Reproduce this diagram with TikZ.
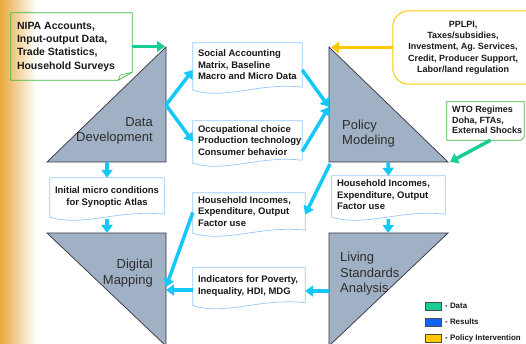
\documentclass[tikz,border=0pt]{standalone}
\usepackage{fontspec}
\setmainfont{Liberation Sans}
\usetikzlibrary{arrows.meta,calc}
\frenchspacing
\definecolor{tri}{RGB}{161,177,197}
\definecolor{triedge}{RGB}{50,50,60}
\definecolor{cyanA}{RGB}{20,200,250}
\definecolor{greenA}{RGB}{25,205,150}
\definecolor{greenB}{RGB}{60,185,60}
\definecolor{yellowA}{RGB}{255,200,0}
\definecolor{boxblue}{RGB}{150,200,250}
\definecolor{legblue}{RGB}{15,100,245}
\definecolor{orangeL}{RGB}{232,168,60}
\definecolor{orangeM}{RGB}{250,218,135}
\definecolor{txt}{RGB}{25,25,25}
\definecolor{tritxt}{RGB}{45,45,45}
\newcommand\linesL[2]{\makebox[#1][l]{\begin{tabular}{@{}l@{}}#2\end{tabular}}}
\newcommand\linesC[2]{\makebox[#1][c]{\begin{tabular}{@{}c@{}}#2\end{tabular}}}
\newcommand\mydocshape[1]{%
  \path[docline] ([yshift=-1pt]#1.south west) -- (#1.north west) -- (#1.north east) -- ([yshift=2pt]#1.south east)
  .. controls ([yshift=7pt]$(#1.south west)!0.6!(#1.south east)$) and ([yshift=-11pt]$(#1.south west)!0.3!(#1.south east)$) .. ([yshift=-1pt]#1.south west) -- cycle;}
\begin{document}
\begin{tikzpicture}[x=1pt,y=-1pt,
  trifill/.style={fill=tri,draw=triedge,line width=0.7pt,line join=miter},
  trilabel/.style={font=\fontsize{13}{15.5}\selectfont, text=tritxt, inner sep=0pt},
  boxt/.style={font=\bfseries\fontsize{9.5}{11.5}\selectfont, text=txt, inner xsep=5pt, inner ysep=0pt},
  docline/.style={draw=boxblue, line width=0.7pt},
  flow/.style={draw=cyanA, line width=3.5pt, -{Triangle[length=8pt,width=11pt]}},
  dataflow/.style={draw=greenA, line width=3.5pt, -{Triangle[length=8pt,width=11pt]}},
  polflow/.style={draw=yellowA, line width=3.5pt, -{Triangle[length=8pt,width=11pt]}},
  swatch/.style={draw=black!70, line width=0.6pt, minimum width=16pt, minimum height=8pt, inner sep=0pt},
  legtext/.style={font=\bfseries\fontsize{7.9}{9}\selectfont, text=txt, inner sep=0pt, anchor=west}
]
\useasboundingbox (0,0) rectangle (526,344);
\fill[white] (0,0) rectangle (526,344);
\shade[left color=orangeL, middle color=orangeM, right color=white] (0,0) rectangle (36,344);

% triangles
\filldraw[trifill] (166,47) -- (47,162) -- (166,162) -- cycle;
\filldraw[trifill] (47,233) -- (166,233) -- (166,346) -- cycle;
\filldraw[trifill] (329,47) -- (329,162) -- (448,162) -- cycle;
\filldraw[trifill] (329,233) -- (448,233) -- (329,346) -- cycle;
\node[trilabel, align=right, anchor=east] (ddl) at (153,131) {Data\\Development};
\node[trilabel, align=right, anchor=east] (dml) at (153,273) {Digital\\Mapping};
\node[trilabel, align=left, anchor=west] (pml) at (342,133.5) {Policy\\Modeling};
\node[trilabel, align=left, anchor=west] (lsl) at (340,274) {Living\\Standards\\Analysis};

% anchor points on triangles
\coordinate (ddR) at (166,105);
\coordinate (pmL) at (329,107);
\coordinate (ddB) at (107,162);
\coordinate (dmT) at (107,233);
\coordinate (pmB) at (388,162);
\coordinate (lsT) at (388,233);
\coordinate (pmC) at (330,164);
\coordinate (dmR) at (166,287);
\coordinate (lsL) at (329,291);
\coordinate (ddA) at (165,46.5);
\coordinate (pmA) at (331,47.5);
\coordinate (pmE) at (450,162);

% blue document boxes
\node[boxt, minimum height=46pt] (sam) at (247.5,66) {\linesL{99pt}{Social Accounting\\Matrix, Baseline\\Macro and Micro Data}};
\mydocshape{sam}
\node[boxt, minimum height=41pt] (occ) at (247.5,141.5) {\linesL{99pt}{Occupational choice\\Production technology\\Consumer behavior}};
\mydocshape{occ}
\node[boxt, minimum height=38pt] (init) at (107,197) {\linesC{104pt}{Initial micro conditions\\for Synoptic Atlas}};
\mydocshape{init}
\node[boxt, minimum height=39pt] (hhl) at (249,212.5) {\linesL{102pt}{Household Incomes,\\Expenditure, Output\\Factor use}};
\mydocshape{hhl}
\node[boxt, minimum height=40pt] (hhr) at (388.5,196) {\linesL{103pt}{Household Incomes,\\Expenditure, Output\\Factor use}};
\mydocshape{hhr}
\node[boxt, minimum height=37pt] (ind) at (249,286) {\linesL{102pt}{Indicators for Poverty,\\Inequality, HDI, MDG}};
\mydocshape{ind}

% green note boxes
\node[boxt, font=\bfseries\fontsize{10.5}{13.3}\selectfont, inner xsep=6pt, minimum height=67pt] (nipa) at (71.5,46.5) {\linesL{109pt}{NIPA Accounts,\\Input-output Data,\\Trade Statistics,\\Household Surveys}};
\draw[greenB, line width=0.8pt] (nipa.north west) -- (nipa.north east) -- ([yshift=8pt]nipa.south east) -- ([xshift=-14pt]nipa.south east) -- (nipa.south west) -- cycle;
\draw[greenB, line width=0.6pt] ([yshift=8pt]nipa.south east) -- ([xshift=-12pt,yshift=5pt]nipa.south east) -- ([xshift=-14pt]nipa.south east);
\node[boxt, font=\bfseries\fontsize{9}{10.5}\selectfont, minimum height=38pt] (wto) at (485.5,121) {\linesL{67pt}{WTO Regimes\\Doha, FTAs,\\External Shocks}};
\draw[greenB, line width=0.8pt] (wto.north west) -- (wto.north east) -- ([yshift=3pt]wto.south east) -- ([xshift=-3pt]wto.south east) -- (wto.south west) -- cycle;

% yellow policy box
\node[boxt, font=\bfseries\fontsize{9}{11.3}\selectfont, minimum height=73pt] (pplpi) at (463,47.5) {\linesC{130pt}{PPLPI,\\Taxes/subsidies,\\Investment, Ag. Services,\\Credit, Producer Support,\\Labor/land regulation}};
\draw[yellowA, line width=1pt, rounded corners=16pt] (pplpi.north west) rectangle ([xshift=25pt]pplpi.south east);

% cyan flow arrows
\draw[flow] (ddR) -- ([yshift=-4pt]sam.west);
\draw[flow] (ddR) -- (occ.west);
\draw[flow] ([yshift=-4pt]sam.east) -- (pmL);
\draw[flow] ([yshift=-10pt]occ.east) -- (pmL);
\draw[flow] (ddB) -- (init.north);
\draw[flow] ([yshift=-3pt]init.south) -- (dmT);
\draw[flow] (pmB) -- (hhr.north);
\draw[flow] ([yshift=-3pt]hhr.south) -- (lsT);
\draw[flow] (pmC) -- ([yshift=-2pt]hhl.east);
\draw[flow] (hhl.west) -- (dmR);
\draw[flow] ([yshift=-4pt]ind.west) -- ([yshift=-4pt]ind.west -| dmR);
\draw[flow] (lsL) -- (lsL -| ind.east);

% data and policy arrows
\draw[dataflow] (nipa.east) -- (ddA);
\draw[dataflow] ([xshift=5pt]wto.south) -- (pmE);
\draw[polflow] (pplpi.west) -- (pmA);

% legend
\node[swatch, fill=greenA] (lg1) at (433,306) {};
\node[swatch, fill=legblue] (lg2) at (433,322) {};
\node[swatch, fill=yellowA] (lg3) at (433,338) {};
\node[legtext] (lt1) at (445,306) {- Data};
\node[legtext] (lt2) at (445,322) {- Results};
\node[legtext] (lt3) at (445,338) {- Policy Intervention};
\end{tikzpicture}
\end{document}
